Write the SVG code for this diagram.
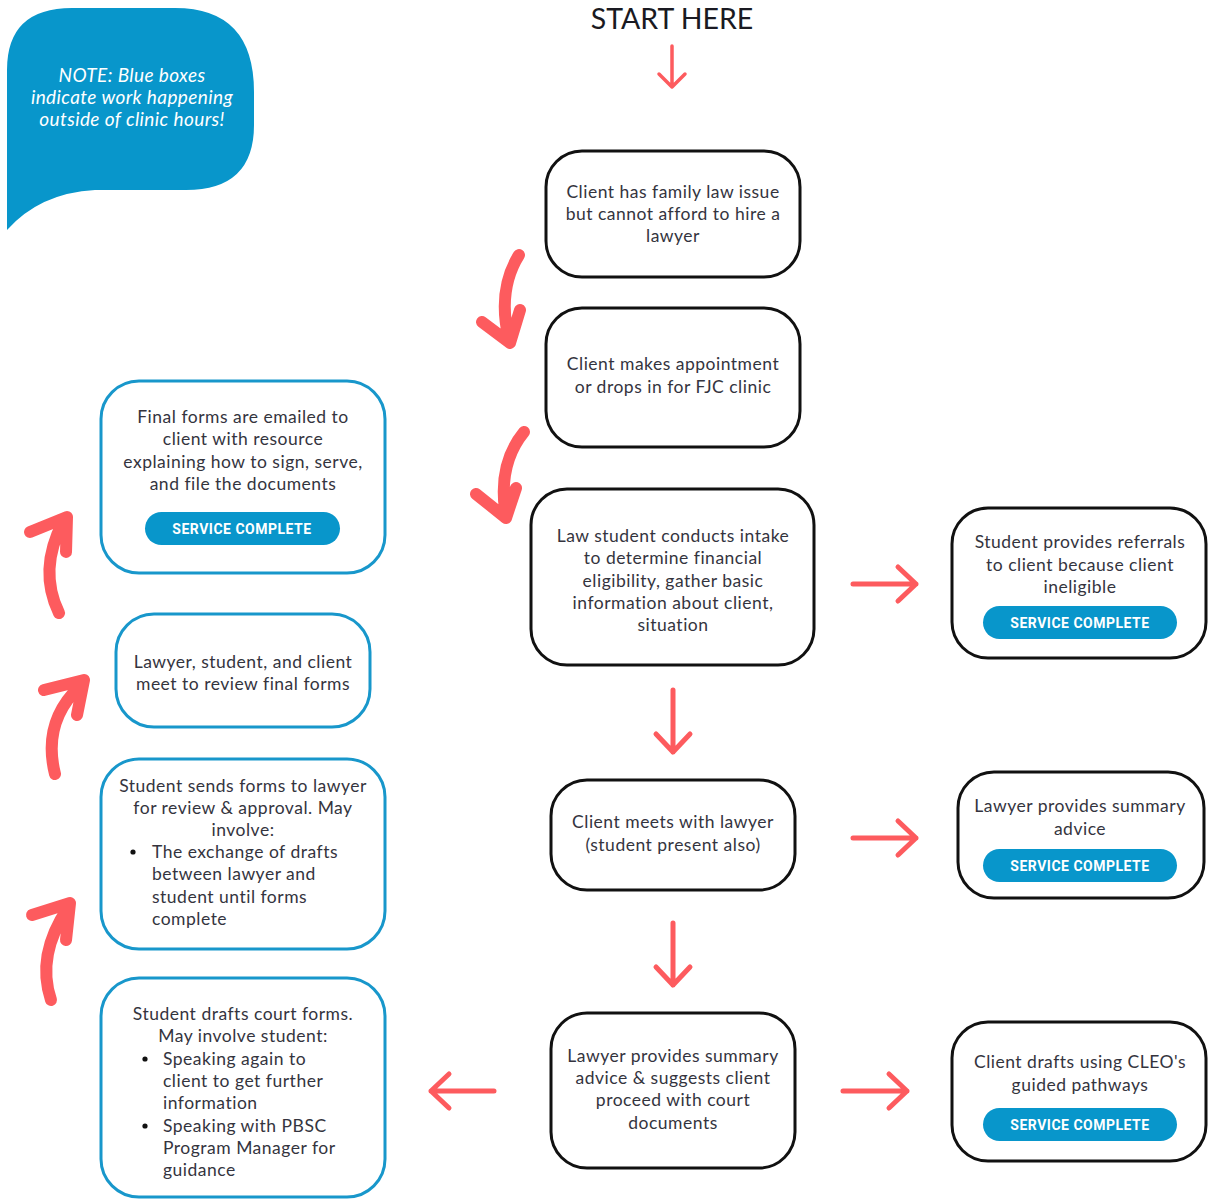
<svg xmlns="http://www.w3.org/2000/svg" width="1208" height="1199" viewBox="0 0 1208 1199">
<style>
.box{fill:#fff;stroke:#111;stroke-width:3}
.bbox{fill:#fff;stroke:#1897cb;stroke-width:3}
.t{font-family:Lato,"Noto Sans",sans-serif;font-size:17.5px;letter-spacing:0.5px;fill:#34343e;text-anchor:middle}
.tl{font-family:Lato,"Noto Sans",sans-serif;font-size:17.5px;letter-spacing:0.5px;fill:#34343e}
.btn{fill:#0896cb}
.bt{font-family:Roboto,"Liberation Sans",sans-serif;font-weight:bold;font-size:14px;letter-spacing:0.5px;fill:#fff;text-anchor:middle}
.arr{fill:none;stroke:#fd5b5e;stroke-width:5;stroke-linecap:round;stroke-linejoin:round}
.thin{fill:none;stroke:#fd5b5e;stroke-width:3.5;stroke-linecap:round;stroke-linejoin:round}
.curve{fill:none;stroke:#fd5b5e;stroke-width:12;stroke-linecap:round;stroke-linejoin:round}
</style>
<rect width="1208" height="1199" fill="#fff"/>
<g id="note">
<path d="M7,230 L7,70 Q7,8 72,8 L175,8 Q254,8 254,92 L254,125 Q254,190 186,190 L95,190 Q40,193 7,230 Z" fill="#0896cb"/>
<g font-family="Lato,'Noto Sans',sans-serif" font-style="italic" font-size="19" letter-spacing="0.4" fill="#fff" text-anchor="middle">
<text x="132" y="82">NOTE: Blue boxes</text>
<text x="132" y="104">indicate work happening</text>
<text x="132" y="126">outside of clinic hours!</text>
</g>
</g>
<g id="start">
<text x="672" y="29" font-family="Lato,'Noto Sans',sans-serif" font-size="28.5" fill="#1a1a22" text-anchor="middle">START HERE</text>
</g>
<g id="n1">
<rect class="box" x="546" y="151" width="254" height="126" rx="36"/>
<text class="t" x="673" y="198">Client has family law issue</text>
<text class="t" x="673" y="220">but cannot afford to hire a</text>
<text class="t" x="673" y="242">lawyer</text>
</g>
<g id="n2">
<rect class="box" x="546" y="308" width="254" height="139" rx="36"/>
<text class="t" x="673" y="370">Client makes appointment</text>
<text class="t" x="673" y="393">or drops in for FJC clinic</text>
</g>
<g id="n3">
<rect class="box" x="531" y="489" width="283" height="176" rx="36"/>
<text class="t" x="673" y="542">Law student conducts intake</text>
<text class="t" x="673" y="564">to determine financial</text>
<text class="t" x="673" y="587">eligibility, gather basic</text>
<text class="t" x="673" y="609">information about client,</text>
<text class="t" x="673" y="631">situation</text>
</g>
<g id="n4">
<rect class="box" x="551" y="780" width="244" height="110" rx="36"/>
<text class="t" x="673" y="828">Client meets with lawyer</text>
<text class="t" x="673" y="851">(student present also)</text>
</g>
<g id="n5">
<rect class="box" x="551" y="1013" width="244" height="155" rx="36"/>
<text class="t" x="673" y="1062">Lawyer provides summary</text>
<text class="t" x="673" y="1084">advice &amp; suggests client</text>
<text class="t" x="673" y="1106">proceed with court</text>
<text class="t" x="673" y="1129">documents</text>
</g>
<g id="r1">
<rect class="box" x="952" y="508" width="254" height="150" rx="36"/>
<text class="t" x="1080" y="548">Student provides referrals</text>
<text class="t" x="1080" y="571">to client because client</text>
<text class="t" x="1080" y="593">ineligible</text>
<rect class="btn" x="983" y="606" width="194" height="33" rx="16.5"/>
<text class="bt" x="1080" y="628">SERVICE COMPLETE</text>
</g>
<g id="r2">
<rect class="box" x="958" y="772" width="246" height="126" rx="36"/>
<text class="t" x="1080" y="812">Lawyer provides summary</text>
<text class="t" x="1080" y="835">advice</text>
<rect class="btn" x="983" y="849" width="194" height="33" rx="16.5"/>
<text class="bt" x="1080" y="871">SERVICE COMPLETE</text>
</g>
<g id="r3">
<rect class="box" x="952" y="1022" width="254" height="139" rx="36"/>
<text class="t" x="1080" y="1068">Client drafts using CLEO's</text>
<text class="t" x="1080" y="1091">guided pathways</text>
<rect class="btn" x="983" y="1108" width="194" height="33" rx="16.5"/>
<text class="bt" x="1080" y="1130">SERVICE COMPLETE</text>
</g>
<g id="l1">
<rect class="bbox" x="101" y="381" width="284" height="192" rx="38"/>
<text class="t" x="243" y="423">Final forms are emailed to</text>
<text class="t" x="243" y="445">client with resource</text>
<text class="t" x="243" y="468">explaining how to sign, serve,</text>
<text class="t" x="243" y="490">and file the documents</text>
<rect class="btn" x="145" y="512" width="195" height="33" rx="16.5"/>
<text class="bt" x="242" y="534">SERVICE COMPLETE</text>
</g>
<g id="l2">
<rect class="bbox" x="116" y="614" width="254" height="113" rx="38"/>
<text class="t" x="243" y="668">Lawyer, student, and client</text>
<text class="t" x="243" y="690">meet to review final forms</text>
</g>
<g id="l3">
<rect class="bbox" x="101" y="759" width="284" height="190" rx="38"/>
<text class="t" x="243" y="792">Student sends forms to lawyer</text>
<text class="t" x="243" y="814">for review &amp; approval. May</text>
<text class="t" x="243" y="836">involve:</text>
<circle cx="133" cy="852" r="2.6" fill="#111"/>
<text class="tl" x="152" y="858">The exchange of drafts</text>
<text class="tl" x="152" y="880">between lawyer and</text>
<text class="tl" x="152" y="903">student until forms</text>
<text class="tl" x="152" y="925">complete</text>
</g>
<g id="l4">
<rect class="bbox" x="101" y="978" width="284" height="219" rx="38"/>
<text class="t" x="243" y="1020">Student drafts court forms.</text>
<text class="t" x="243" y="1042">May involve student:</text>
<circle cx="145" cy="1059" r="2.6" fill="#111"/>
<text class="tl" x="163" y="1065">Speaking again to</text>
<text class="tl" x="163" y="1087">client to get further</text>
<text class="tl" x="163" y="1109">information</text>
<circle cx="145" cy="1126" r="2.6" fill="#111"/>
<text class="tl" x="163" y="1132">Speaking with PBSC</text>
<text class="tl" x="163" y="1154">Program Manager for</text>
<text class="tl" x="163" y="1176">guidance</text>
</g>
<g id="connectors">
<path class="thin" d="M672,46 V87 M659,74 L672,87 L685,74"/>
<path class="curve" d="M519,255 Q497,290 509,340 M482,322 L510,343 L520,310"/>
<path class="curve" d="M524,432 Q497,465 506,516 M476,494 L506,518 L516,488"/>
<path class="arr" d="M853,584 H916 M898,567 L916,584 L898,601"/>
<path class="arr" d="M853,838 H916 M898,821 L916,838 L898,855"/>
<path class="arr" d="M843,1091 H907 M889,1074 L907,1091 L889,1108"/>
<path class="arr" d="M494,1091 H431 M449,1074 L431,1091 L449,1108"/>
<path class="arr" d="M673,690 V752 M656,734 L673,752 L690,734"/>
<path class="arr" d="M673,923 V985 M656,967 L673,985 L690,967"/>
<path class="curve" d="M59,613 Q38,570 63,522 M30,532 L67,517 L66,552"/>
<path class="curve" d="M55,774 Q42,722 80,686 M44,690 L84,680 L77,715"/>
<path class="curve" d="M51,1000 Q36,955 68,908 M32,915 L70,903 L66,940"/>
</g>
</svg>
